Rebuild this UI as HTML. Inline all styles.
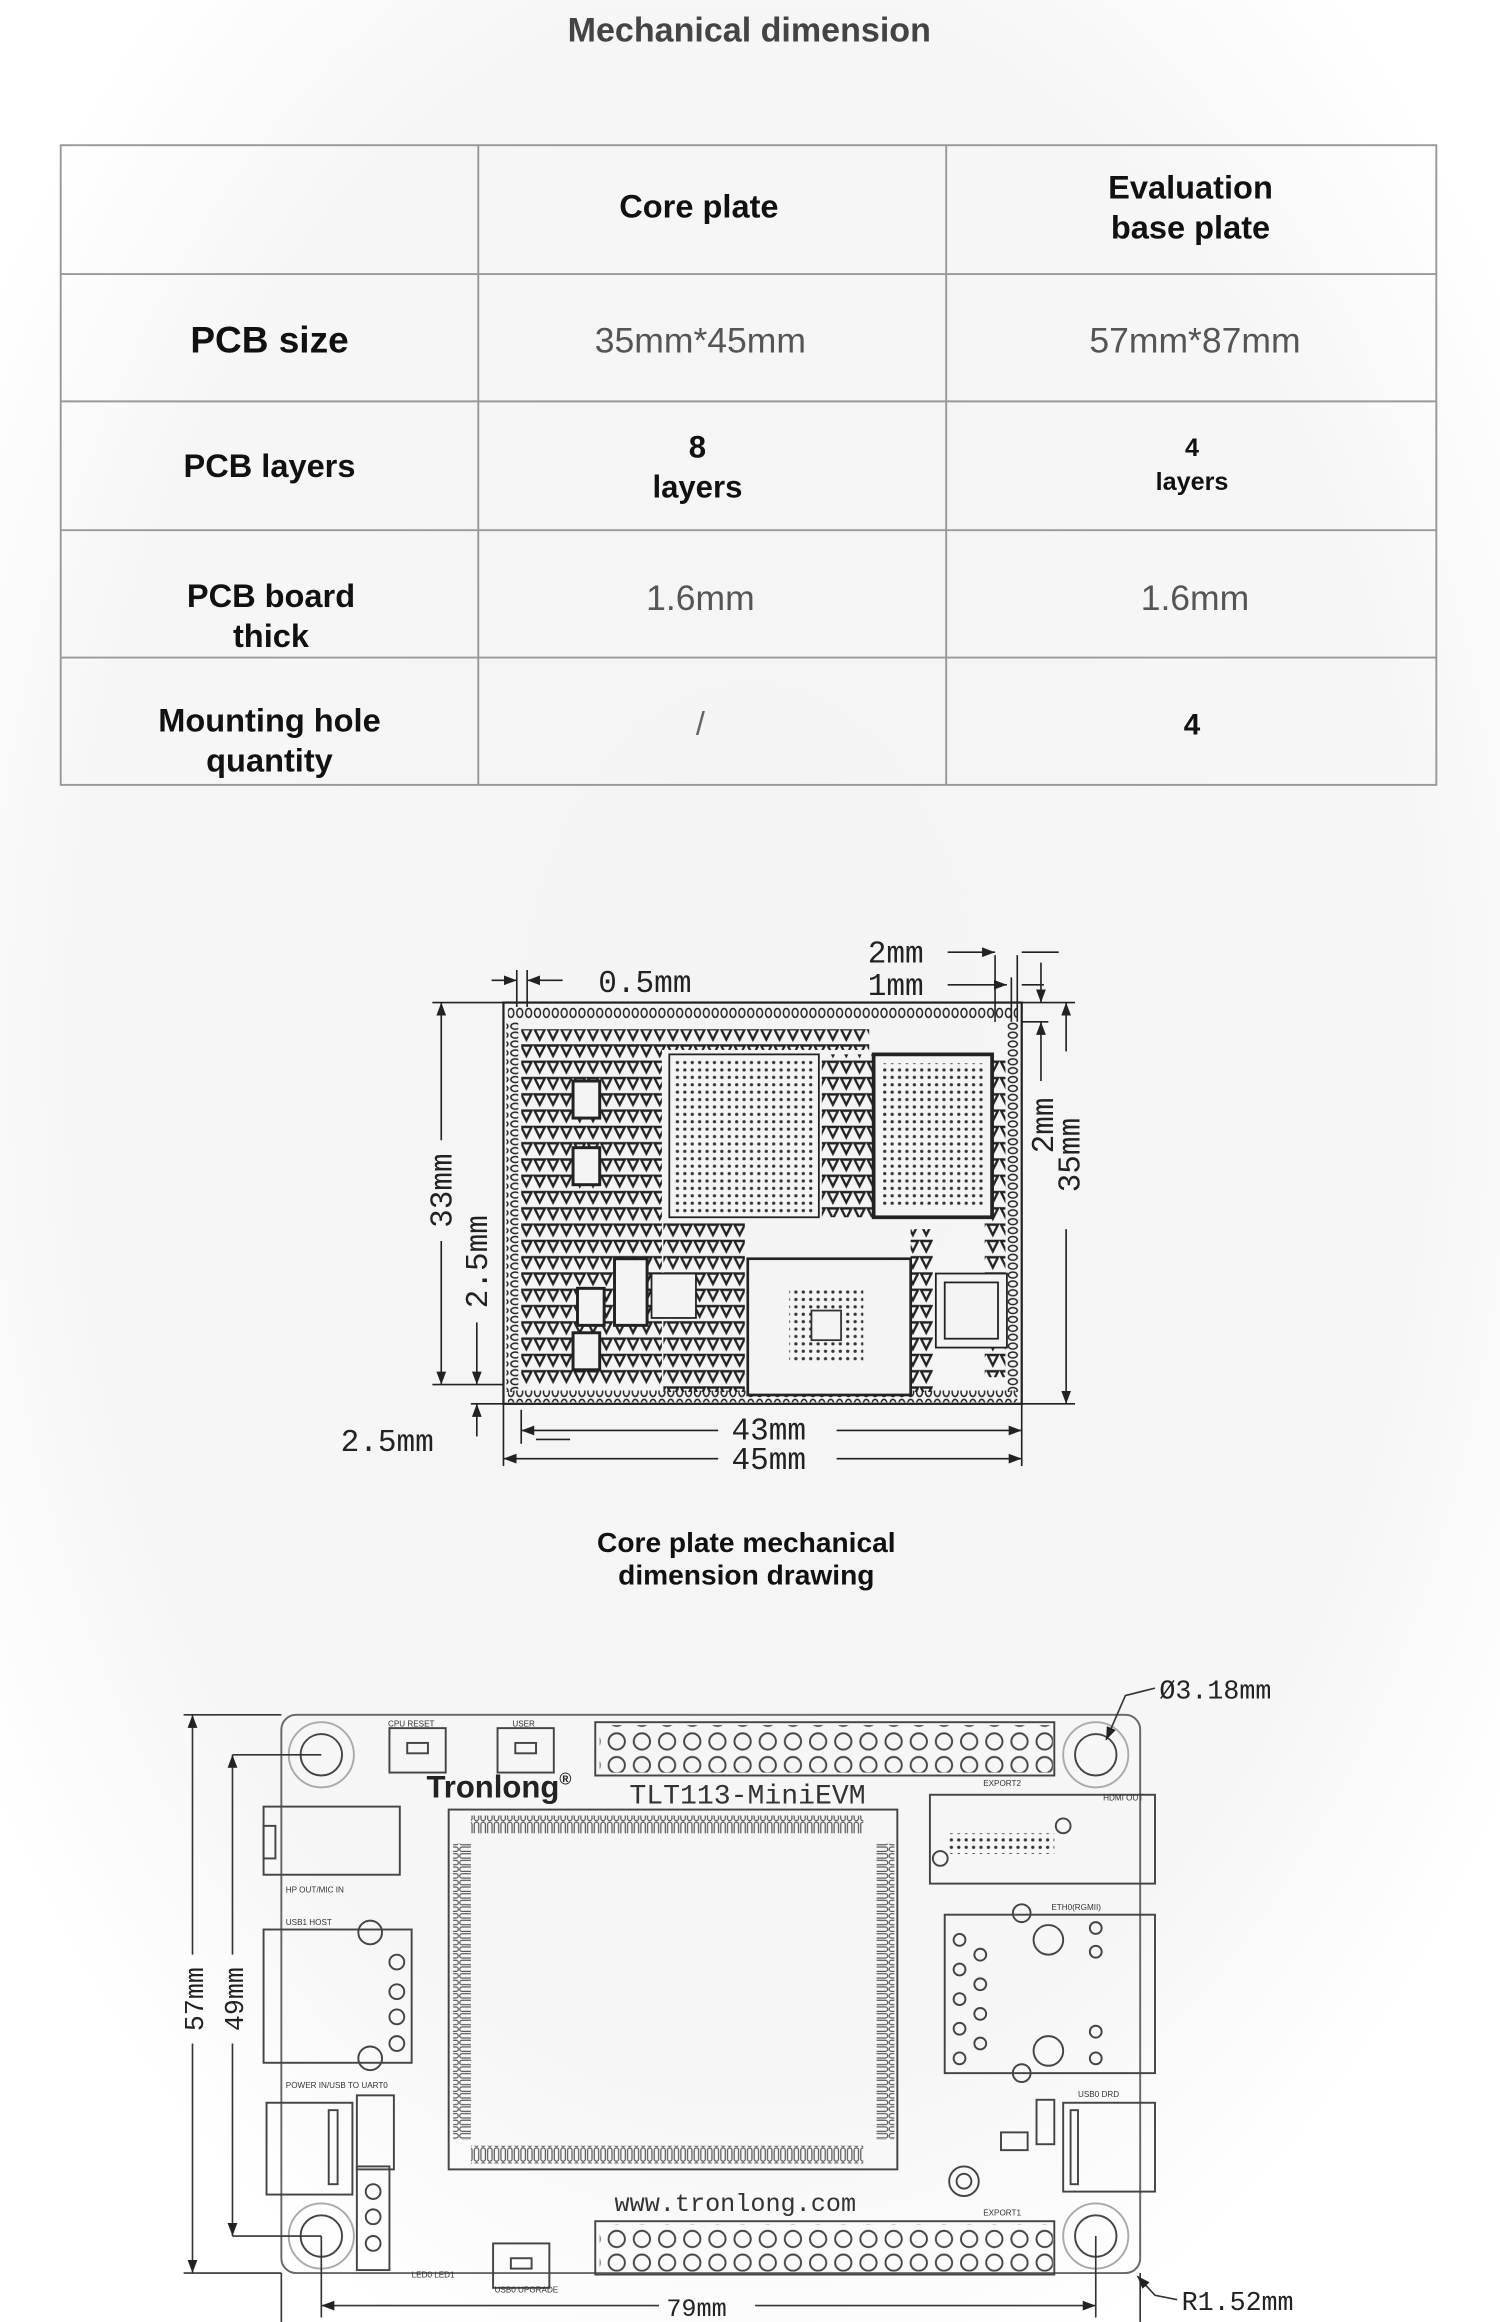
<!DOCTYPE html>
<html><head><meta charset="utf-8">
<style>
html,body{margin:0;padding:0;width:1500px;height:2322px;overflow:hidden;background:#fff}
svg{display:block}
</style></head>
<body>
<svg width="1500" height="2322" viewBox="0 0 1013 1568" xmlns="http://www.w3.org/2000/svg">
<defs>
<radialGradient id="bg" cx="50%" cy="45%" r="60%">
<stop offset="0" stop-color="#f4f4f4"/><stop offset="0.75" stop-color="#f6f6f6"/><stop offset="1" stop-color="#ffffff"/>
</radialGradient>
<pattern id="padsH" x="0" y="0" width="6" height="8" patternUnits="userSpaceOnUse">
<ellipse cx="3" cy="4" rx="2" ry="3" fill="none" stroke="#222" stroke-width="1"/></pattern>
<pattern id="padsV" x="0" y="0" width="8" height="6" patternUnits="userSpaceOnUse">
<ellipse cx="4" cy="3" rx="3" ry="2" fill="none" stroke="#222" stroke-width="1"/></pattern>
<pattern id="dots" x="0" y="0" width="5" height="5" patternUnits="userSpaceOnUse">
<circle cx="2.5" cy="2.5" r="1.1" fill="#333"/></pattern>
<pattern id="tri" x="0" y="0" width="9" height="11" patternUnits="userSpaceOnUse">
<path d="M1 2 L8 2 L4.5 9 Z" fill="none" stroke="#222" stroke-width="1.6"/></pattern>
<pattern id="pin" x="0" y="0" width="17" height="16" patternUnits="userSpaceOnUse">
<circle cx="8.5" cy="8" r="5.5" fill="none" stroke="#444" stroke-width="1.3"/></pattern>
<pattern id="modH" x="0" y="0" width="4.5" height="10" patternUnits="userSpaceOnUse">
<rect x="0.8" y="0.5" width="3" height="9" rx="1.5" fill="none" stroke="#555" stroke-width="0.8"/></pattern>
<pattern id="modV" x="0" y="0" width="10" height="4.5" patternUnits="userSpaceOnUse">
<rect x="0.5" y="0.8" width="9" height="3" rx="1.5" fill="none" stroke="#555" stroke-width="0.8"/></pattern>
<marker id="ar" markerWidth="8" markerHeight="6" refX="8" refY="3" orient="auto"><path d="M0 0 L8 3 L0 6 Z" fill="#222"/></marker>
<marker id="al" markerWidth="8" markerHeight="6" refX="0" refY="3" orient="auto"><path d="M8 0 L0 3 L8 6 Z" fill="#222"/></marker>
</defs>
<rect width="1013" height="1568" fill="url(#bg)"/>

<text x="506" y="28" text-anchor="middle" font-family="Liberation Sans, sans-serif" font-weight="bold" font-size="23" fill="#444">Mechanical dimension</text>

<g stroke="#999" stroke-width="1.3" fill="none">
<rect x="41" y="98" width="929" height="432"/>
<line x1="41" y1="185" x2="970" y2="185"/><line x1="41" y1="271" x2="970" y2="271"/>
<line x1="41" y1="358" x2="970" y2="358"/><line x1="41" y1="444" x2="970" y2="444"/>
<line x1="323" y1="98" x2="323" y2="530"/><line x1="639" y1="98" x2="639" y2="530"/>
</g>
<g font-family="Liberation Sans, sans-serif" text-anchor="middle" fill="#111">
<text x="472" y="147" font-weight="bold" font-size="22">Core plate</text>
<text x="804" y="134" font-weight="bold" font-size="22">Evaluation</text>
<text x="804" y="161" font-weight="bold" font-size="22">base plate</text>
<text x="182" y="238" font-weight="bold" font-size="25">PCB size</text>
<text x="473" y="238" font-size="24" fill="#555">35mm*45mm</text>
<text x="807" y="238" font-size="24" fill="#555">57mm*87mm</text>
<text x="182" y="322" font-weight="bold" font-size="22">PCB layers</text>
<text x="471" y="309" font-weight="bold" font-size="21">8</text>
<text x="471" y="336" font-weight="bold" font-size="21">layers</text>
<text x="805" y="308" font-weight="bold" font-size="17">4</text>
<text x="805" y="331" font-weight="bold" font-size="17">layers</text>
<text x="183" y="410" font-weight="bold" font-size="22">PCB board</text>
<text x="183" y="437" font-weight="bold" font-size="22">thick</text>
<text x="473" y="412" font-size="24" fill="#555">1.6mm</text>
<text x="807" y="412" font-size="24" fill="#555">1.6mm</text>
<text x="182" y="494" font-weight="bold" font-size="22">Mounting hole</text>
<text x="182" y="521" font-weight="bold" font-size="22">quantity</text>
<text x="473" y="496" font-size="22" fill="#666">/</text>
<text x="805" y="496" font-weight="bold" font-size="20">4</text>
</g>

<g stroke="#222" fill="none" stroke-width="1.2">
<rect x="340" y="677" width="350" height="271" stroke-width="1.5"/>
<rect x="343" y="680" width="344" height="8" fill="url(#padsH)" stroke="none"/>
<rect x="343" y="939" width="344" height="8" fill="url(#padsH)" stroke="none"/>
<rect x="342" y="690" width="8" height="250" fill="url(#padsV)" stroke="none"/>
<rect x="680" y="690" width="8" height="250" fill="url(#padsV)" stroke="none"/>
<rect x="352" y="695" width="95" height="240" fill="url(#tri)" stroke="none"/>
<rect x="447" y="695" width="140" height="14" fill="url(#tri)" stroke="none"/>
<rect x="555" y="712" width="35" height="110" fill="url(#tri)" stroke="none"/>
<rect x="448" y="825" width="55" height="115" fill="url(#tri)" stroke="none"/>
<rect x="615" y="830" width="15" height="110" fill="url(#tri)" stroke="none"/>
<rect x="665" y="715" width="14" height="215" fill="url(#tri)" stroke="none"/>
<rect x="452" y="712" width="101" height="110" fill="#f4f4f4"/>
<rect x="455" y="715" width="95" height="104" fill="url(#dots)" stroke="none"/>
<rect x="590" y="712" width="80" height="110" stroke-width="2.5" fill="#f4f4f4"/>
<rect x="596" y="718" width="68" height="98" fill="url(#dots)" stroke="none"/>
<rect x="505" y="850" width="110" height="92" stroke-width="1.8" fill="#f4f4f4"/>
<rect x="533" y="870" width="50" height="50" fill="url(#dots)" stroke="none"/>
<rect x="548" y="885" width="20" height="20" fill="#f4f4f4" stroke="#333"/>
<rect x="632" y="860" width="48" height="50" fill="#f4f4f4"/>
<rect x="638" y="866" width="36" height="38"/>
<rect x="387" y="730" width="18" height="25" stroke-width="2" fill="#f4f4f4"/>
<rect x="387" y="775" width="18" height="25" stroke-width="2" fill="#f4f4f4"/>
<rect x="390" y="870" width="18" height="25" stroke-width="2" fill="#f4f4f4"/>
<rect x="387" y="900" width="18" height="25" stroke-width="2" fill="#f4f4f4"/>
<rect x="415" y="850" width="22" height="45" stroke-width="2" fill="#f4f4f4"/>
<rect x="440" y="860" width="30" height="30" fill="#f4f4f4"/>
</g>
<g stroke="#222" stroke-width="1.1" fill="none">
<line x1="298" y1="677" x2="298" y2="770" marker-start="url(#al)"/>
<line x1="298" y1="838" x2="298" y2="935" marker-end="url(#ar)"/>
<line x1="292" y1="677" x2="340" y2="677"/><line x1="292" y1="935" x2="340" y2="935"/>
<line x1="322" y1="893" x2="322" y2="935" marker-end="url(#ar)"/>
<line x1="322" y1="948" x2="322" y2="970" marker-start="url(#al)"/>
<line x1="318" y1="948" x2="340" y2="948"/>
<line x1="720" y1="677" x2="720" y2="710" marker-start="url(#al)"/>
<line x1="720" y1="830" x2="720" y2="948" marker-end="url(#ar)"/>
<line x1="690" y1="677" x2="726" y2="677"/><line x1="690" y1="948" x2="726" y2="948"/>
<line x1="703" y1="650" x2="703" y2="677" marker-end="url(#ar)"/>
<line x1="703" y1="690" x2="703" y2="730" marker-start="url(#al)"/>
<line x1="690" y1="690" x2="708" y2="690"/>
<line x1="672" y1="645" x2="672" y2="690"/><line x1="687" y1="645" x2="687" y2="690"/><line x1="683" y1="660" x2="683" y2="690"/>
<line x1="640" y1="643" x2="672" y2="643" marker-end="url(#ar)"/>
<line x1="715" y1="643" x2="690" y2="643"/>
<line x1="640" y1="665" x2="680" y2="665" marker-end="url(#ar)"/>
<line x1="705" y1="665" x2="690" y2="665"/>
<line x1="332" y1="662" x2="349" y2="662" marker-end="url(#ar)"/>
<line x1="380" y1="662" x2="356" y2="662" marker-end="url(#ar)"/>
<line x1="349" y1="655" x2="349" y2="680"/><line x1="356" y1="655" x2="356" y2="680"/>
<line x1="352" y1="952" x2="352" y2="975"/><line x1="690" y1="948" x2="690" y2="990"/><line x1="340" y1="948" x2="340" y2="990"/>
<line x1="352" y1="966" x2="485" y2="966" marker-start="url(#al)"/>
<line x1="565" y1="966" x2="690" y2="966" marker-end="url(#ar)"/>
<line x1="340" y1="985" x2="485" y2="985" marker-start="url(#al)"/>
<line x1="565" y1="985" x2="690" y2="985" marker-end="url(#ar)"/>
<line x1="362" y1="972" x2="385" y2="972"/>
</g>
<g font-family="Liberation Mono, monospace" font-size="21" fill="#222">
<text x="404" y="670">0.5mm</text>
<text x="586" y="650">2mm</text>
<text x="586" y="672">1mm</text>
<text x="230" y="980">2.5mm</text>
<text x="494" y="972">43mm</text>
<text x="494" y="992">45mm</text>
<text transform="translate(305,804) rotate(-90)" text-anchor="middle">33mm</text>
<text transform="translate(329,852) rotate(-90)" text-anchor="middle">2.5mm</text>
<text transform="translate(711,760) rotate(-90)" text-anchor="middle">2mm</text>
<text transform="translate(729,780) rotate(-90)" text-anchor="middle">35mm</text>
</g>
<g font-family="Liberation Sans, sans-serif" font-weight="bold" font-size="19" fill="#111" text-anchor="middle">
<text x="504" y="1048">Core plate mechanical</text>
<text x="504" y="1070">dimension drawing</text>
</g>

<g stroke="#444" fill="none" stroke-width="1.3">
<rect x="190" y="1158" width="580" height="377" rx="10" stroke="#666"/>
<g>
<circle cx="217" cy="1185" r="14"/><circle cx="217" cy="1185" r="22" stroke="#aaa"/>
<circle cx="740" cy="1185" r="14"/><circle cx="740" cy="1185" r="22" stroke="#aaa"/>
<circle cx="217" cy="1510" r="14"/><circle cx="217" cy="1510" r="22" stroke="#aaa"/>
<circle cx="740" cy="1510" r="14"/><circle cx="740" cy="1510" r="22" stroke="#aaa"/>
</g>
<rect x="402" y="1163" width="310" height="36"/>
<rect x="405" y="1165" width="306" height="32" fill="url(#pin)" stroke="none"/>
<rect x="402" y="1500" width="310" height="36"/>
<rect x="405" y="1502" width="306" height="32" fill="url(#pin)" stroke="none"/>
<rect x="263" y="1167" width="38" height="30"/><rect x="275" y="1177" width="14" height="7"/>
<rect x="336" y="1167" width="38" height="30"/><rect x="348" y="1177" width="14" height="7"/>
<rect x="333" y="1515" width="38" height="30"/><rect x="345" y="1525" width="14" height="7"/>
<rect x="303" y="1222" width="303" height="243"/>
<rect x="318" y="1226" width="265" height="12" fill="url(#modH)" stroke="none"/>
<rect x="318" y="1449" width="265" height="12" fill="url(#modH)" stroke="none"/>
<rect x="306" y="1245" width="12" height="200" fill="url(#modV)" stroke="none"/>
<rect x="592" y="1245" width="12" height="200" fill="url(#modV)" stroke="none"/>
<rect x="178" y="1220" width="92" height="46"/><rect x="178" y="1233" width="8" height="22"/>
<rect x="178" y="1303" width="100" height="90"/>
<circle cx="268" cy="1325" r="5"/><circle cx="268" cy="1345" r="5"/><circle cx="268" cy="1362" r="5"/><circle cx="268" cy="1380" r="5"/>
<circle cx="250" cy="1305" r="8"/><circle cx="250" cy="1390" r="8"/>
<rect x="180" y="1420" width="58" height="62"/><rect x="222" y="1425" width="6" height="50"/>
<rect x="241" y="1415" width="25" height="50"/>
<rect x="241" y="1463" width="22" height="70"/>
<circle cx="252" cy="1480" r="5"/><circle cx="252" cy="1497" r="5"/><circle cx="252" cy="1515" r="5"/>
<rect x="628" y="1212" width="152" height="60"/>
<rect x="640" y="1238" width="72" height="14" fill="url(#dots)" stroke="none"/>
<circle cx="718" cy="1233" r="5"/><circle cx="635" cy="1255" r="5"/>
<rect x="638" y="1293" width="142" height="107"/>
<circle cx="708" cy="1310" r="10"/><circle cx="708" cy="1385" r="10"/>
<circle cx="690" cy="1292" r="6"/><circle cx="690" cy="1400" r="6"/>
<circle cx="648" cy="1310" r="4"/><circle cx="648" cy="1330" r="4"/><circle cx="648" cy="1350" r="4"/><circle cx="648" cy="1370" r="4"/><circle cx="648" cy="1390" r="4"/>
<circle cx="662" cy="1320" r="4"/><circle cx="662" cy="1340" r="4"/><circle cx="662" cy="1360" r="4"/><circle cx="662" cy="1380" r="4"/>
<circle cx="740" cy="1302" r="4"/><circle cx="740" cy="1318" r="4"/><circle cx="740" cy="1372" r="4"/><circle cx="740" cy="1390" r="4"/>
<rect x="718" y="1420" width="62" height="60"/><rect x="723" y="1425" width="5" height="50"/>
<circle cx="651" cy="1473" r="10"/><circle cx="651" cy="1473" r="5"/>
<rect x="676" y="1440" width="18" height="12"/><rect x="700" y="1418" width="12" height="30"/>
</g>
<g stroke="#333" fill="none" stroke-width="1.1">
<line x1="130" y1="1158" x2="130" y2="1320" marker-start="url(#al)"/>
<line x1="130" y1="1380" x2="130" y2="1535" marker-end="url(#ar)"/>
<line x1="124" y1="1158" x2="190" y2="1158"/><line x1="124" y1="1535" x2="190" y2="1535"/>
<line x1="157" y1="1185" x2="157" y2="1320" marker-start="url(#al)"/>
<line x1="157" y1="1380" x2="157" y2="1510" marker-end="url(#ar)"/>
<line x1="157" y1="1185" x2="217" y2="1185"/><line x1="157" y1="1510" x2="217" y2="1510"/>
<line x1="217" y1="1510" x2="217" y2="1565"/><line x1="740" y1="1510" x2="740" y2="1565"/>
<line x1="190" y1="1535" x2="190" y2="1568"/><line x1="770" y1="1535" x2="770" y2="1568"/>
<line x1="217" y1="1557" x2="445" y2="1557" marker-start="url(#al)"/>
<line x1="510" y1="1557" x2="740" y2="1557" marker-end="url(#ar)"/>
<path d="M780 1140 L760 1145 L747 1175" marker-end="url(#ar)"/>
<path d="M795 1553 L780 1550 L768 1537" marker-end="url(#ar)"/>
</g>
<g font-family="Liberation Mono, monospace" fill="#222">
<text x="783" y="1147" font-size="18">Ø3.18mm</text>
<text x="798" y="1560" font-size="18">R1.52mm</text>
<text x="450" y="1564" font-size="17">79mm</text>
<text transform="translate(137,1350) rotate(-90)" text-anchor="middle" font-size="18">57mm</text>
<text transform="translate(164,1350) rotate(-90)" text-anchor="middle" font-size="18">49mm</text>
<text x="425" y="1218" font-size="19" fill="#333">TLT113-MiniEVM</text>
<text x="415" y="1493" font-size="17" fill="#333">www.tronlong.com</text>
</g>
<text x="288" y="1214" font-family="Liberation Sans, sans-serif" font-weight="bold" font-size="21" fill="#222">Tronlong<tspan font-size="11" dy="-9">®</tspan></text>
<g font-family="Liberation Sans, sans-serif" font-size="5.5" fill="#333">
<text x="262" y="1166">CPU RESET</text><text x="346" y="1166">USER</text>
<text x="193" y="1278">HP OUT/MIC IN</text><text x="193" y="1300">USB1 HOST</text>
<text x="193" y="1410">POWER IN/USB TO UART0</text>
<text x="664" y="1206">EXPORT2</text><text x="745" y="1216">HDMI OUT</text>
<text x="710" y="1290">ETH0(RGMII)</text><text x="728" y="1416">USB0 DRD</text>
<text x="664" y="1496">EXPORT1</text><text x="334" y="1548">USB0 UPGRADE</text>
<text x="278" y="1538">LED0 LED1</text>
</g>
</svg>
</body></html>
